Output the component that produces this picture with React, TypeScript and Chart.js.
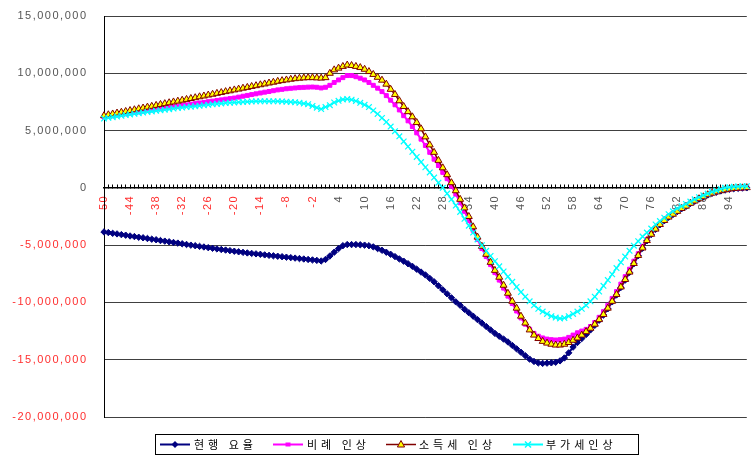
import React, { useEffect, useRef } from 'react';
import { Chart, registerables } from 'chart.js';

Chart.register(...registerables);

// Category axis: age offsets
const ages = [
  -50, -49, -48, -47, -46, -45, -44, -43, -42, -41,
  -40, -39, -38, -37, -36, -35, -34, -33, -32, -31,
  -30, -29, -28, -27, -26, -25, -24, -23, -22, -21,
  -20, -19, -18, -17, -16, -15, -14, -13, -12, -11,
  -10, -9, -8, -7, -6, -5, -4, -3, -2, -1,
  0, 1, 2, 3, 4, 5, 6, 7, 8, 9,
  10, 11, 12, 13, 14, 15, 16, 17, 18, 19,
  20, 21, 22, 23, 24, 25, 26, 27, 28, 29,
  30, 31, 32, 33, 34, 35, 36, 37, 38, 39,
  40, 41, 42, 43, 44, 45, 46, 47, 48, 49,
  50, 51, 52, 53, 54, 55, 56, 57, 58, 59,
  60, 61, 62, 63, 64, 65, 66, 67, 68, 69,
  70, 71, 72, 73, 74, 75, 76, 77, 78, 79,
  80, 81, 82, 83, 84, 85, 86, 87, 88, 89,
  90, 91, 92, 93, 94, 95, 96, 97, 98,
];

// 현행 요율
const currentRate = [
  -3850000, -3900000, -3970000, -4020000, -4080000, -4130000, -4200000, -4250000, -4310000, -4360000,
  -4420000, -4480000, -4530000, -4600000, -4650000, -4710000, -4770000, -4820000, -4880000, -4940000,
  -5000000, -5050000, -5110000, -5160000, -5220000, -5270000, -5330000, -5380000, -5430000, -5480000,
  -5530000, -5580000, -5630000, -5680000, -5720000, -5760000, -5800000, -5850000, -5890000, -5930000,
  -5970000, -6010000, -6050000, -6090000, -6130000, -6170000, -6210000, -6250000, -6290000, -6330000,
  -6380000, -6250000, -5950000, -5620000, -5300000, -5050000, -4950000, -4950000, -4950000, -4970000,
  -5000000, -5050000, -5150000, -5300000, -5450000, -5620000, -5800000, -6000000, -6200000, -6400000,
  -6620000, -6850000, -7100000, -7350000, -7600000, -7900000, -8200000, -8550000, -8900000, -9250000,
  -9600000, -9950000, -10250000, -10600000, -10900000, -11200000, -11500000, -11800000, -12100000, -12400000,
  -12700000, -12950000, -13200000, -13450000, -13750000, -14050000, -14350000, -14650000, -14950000, -15150000,
  -15280000, -15320000, -15300000, -15270000, -15220000, -15100000, -14850000, -14400000, -13900000, -13500000,
  -13150000, -12800000, -12400000, -12000000, -11550000, -11100000, -10550000, -9950000, -9350000, -8700000,
  -8050000, -7380000, -6620000, -5920000, -5270000, -4620000, -4070000, -3620000, -3220000, -2870000,
  -2570000, -2320000, -2070000, -1820000, -1620000, -1370000, -1170000, -970000, -800000, -620000,
  -480000, -370000, -270000, -190000, -120000, -70000, -40000, -20000, 0,
];

// 비례 인상
const proportional = [
  6180000, 6240000, 6290000, 6350000, 6410000, 6460000, 6520000, 6580000, 6630000, 6690000,
  6750000, 6800000, 6860000, 6910000, 6970000, 7020000, 7080000, 7130000, 7190000, 7240000,
  7300000, 7350000, 7410000, 7460000, 7520000, 7570000, 7630000, 7680000, 7740000, 7790000,
  7840000, 7920000, 8000000, 8070000, 8140000, 8210000, 8280000, 8350000, 8410000, 8480000,
  8550000, 8600000, 8650000, 8690000, 8720000, 8750000, 8770000, 8790000, 8800000, 8780000,
  8720000, 8780000, 8950000, 9200000, 9420000, 9620000, 9800000, 9800000, 9700000, 9570000,
  9420000, 9200000, 8950000, 8700000, 8400000, 8050000, 7650000, 7250000, 6800000, 6300000,
  5850000, 5350000, 4800000, 4250000, 3700000, 3100000, 2500000, 1950000, 1350000, 800000,
  150000, -550000, -1300000, -2050000, -2850000, -3700000, -4500000, -5300000, -6000000, -6700000,
  -7400000, -8050000, -8750000, -9450000, -10100000, -10750000, -11350000, -11900000, -12350000, -12700000,
  -12950000, -13100000, -13200000, -13250000, -13280000, -13250000, -13200000, -13050000, -12850000, -12650000,
  -12500000, -12350000, -12100000, -11750000, -11300000, -10800000, -10250000, -9650000, -9050000, -8400000,
  -7750000, -7100000, -6400000, -5750000, -5100000, -4500000, -4000000, -3550000, -3150000, -2800000,
  -2500000, -2250000, -2000000, -1750000, -1550000, -1320000, -1120000, -930000, -750000, -580000,
  -440000, -330000, -230000, -150000, -90000, -40000, -10000, 10000, 30000,
];

// 소득세 인상
const incomeTax = [
  6300000, 6380000, 6450000, 6530000, 6600000, 6670000, 6750000, 6820000, 6900000, 6970000,
  7050000, 7120000, 7200000, 7280000, 7350000, 7430000, 7500000, 7570000, 7650000, 7720000,
  7800000, 7870000, 7950000, 8020000, 8100000, 8170000, 8250000, 8320000, 8400000, 8470000,
  8550000, 8620000, 8700000, 8770000, 8850000, 8920000, 9000000, 9070000, 9150000, 9220000,
  9300000, 9360000, 9420000, 9480000, 9530000, 9570000, 9600000, 9620000, 9620000, 9600000,
  9580000, 9620000, 10000000, 10300000, 10450000, 10600000, 10720000, 10680000, 10600000, 10500000,
  10350000, 10150000, 9900000, 9650000, 9400000, 9050000, 8600000, 8150000, 7600000, 7100000,
  6650000, 6200000, 5700000, 5150000, 4450000, 3750000, 3100000, 2400000, 1750000, 1150000,
  450000, -250000, -1000000, -1750000, -2500000, -3400000, -4300000, -5100000, -5800000, -6500000,
  -7200000, -7800000, -8500000, -9200000, -9900000, -10500000, -11200000, -11800000, -12400000, -12850000,
  -13150000, -13400000, -13550000, -13650000, -13720000, -13720000, -13650000, -13500000, -13300000, -13100000,
  -12850000, -12550000, -12250000, -11900000, -11500000, -11050000, -10500000, -9900000, -9300000, -8650000,
  -8000000, -7350000, -6600000, -5900000, -5250000, -4600000, -4050000, -3600000, -3200000, -2850000,
  -2550000, -2300000, -2050000, -1800000, -1600000, -1350000, -1150000, -950000, -780000, -600000,
  -460000, -350000, -250000, -170000, -100000, -50000, -20000, 0, 20000,
];

// 부가세인상
const vat = [
  6050000, 6110000, 6170000, 6230000, 6290000, 6350000, 6410000, 6470000, 6520000, 6570000,
  6620000, 6670000, 6720000, 6770000, 6820000, 6870000, 6920000, 6970000, 7010000, 7050000,
  7090000, 7130000, 7170000, 7210000, 7250000, 7290000, 7330000, 7370000, 7400000, 7430000,
  7460000, 7480000, 7500000, 7520000, 7540000, 7550000, 7560000, 7560000, 7560000, 7560000,
  7550000, 7540000, 7520000, 7500000, 7470000, 7420000, 7360000, 7300000, 7150000, 7000000,
  6880000, 7050000, 7220000, 7450000, 7600000, 7720000, 7750000, 7700000, 7580000, 7420000,
  7250000, 7050000, 6750000, 6450000, 6100000, 5750000, 5350000, 4950000, 4500000, 4050000,
  3600000, 3150000, 2700000, 2250000, 1800000, 1350000, 900000, 450000, 0, -500000,
  -1000000, -1550000, -2100000, -2700000, -3300000, -3900000, -4500000, -5000000, -5500000, -5950000,
  -6400000, -6850000, -7300000, -7750000, -8200000, -8650000, -9100000, -9500000, -9900000, -10250000,
  -10550000, -10800000, -11000000, -11200000, -11320000, -11400000, -11350000, -11200000, -11000000, -10800000,
  -10550000, -10250000, -9900000, -9500000, -9050000, -8550000, -8050000, -7550000, -7000000, -6500000,
  -6000000, -5500000, -5050000, -4650000, -4250000, -3900000, -3550000, -3200000, -2900000, -2600000,
  -2300000, -2050000, -1800000, -1600000, -1400000, -1200000, -1000000, -820000, -650000, -500000,
  -350000, -220000, -100000, 0, 50000, 100000, 120000, 140000, 150000,
];

const Y_MIN = -20000000;
const Y_MAX = 15000000;
const Y_STEP = 5000000;
const LABEL_EVERY = 6;

const NAVY = '#000080';
const MAGENTA = '#FF00FF';
const MAROON = '#800000';
const YELLOW = '#FFFF00';
const CYAN = '#00FFFF';
const POS_TEXT = '#555555';
const NEG_TEXT = '#FF2E2E';
const TICK_FONT = { family: "'Liberation Sans', Arial, sans-serif", size: 11 };

type MarkerKind = 'diamond' | 'square' | 'triangle' | 'cross';

const legendEntries: { label: string; line: string; marker: MarkerKind; fill: string; stroke: string }[] = [
  { label: '현행 요율', line: NAVY, marker: 'diamond', fill: NAVY, stroke: NAVY },
  { label: '비례 인상', line: MAGENTA, marker: 'square', fill: MAGENTA, stroke: MAGENTA },
  { label: '소득세 인상', line: MAROON, marker: 'triangle', fill: YELLOW, stroke: MAROON },
  { label: '부가세인상', line: CYAN, marker: 'cross', fill: CYAN, stroke: CYAN },
];

function drawMarker(ctx: CanvasRenderingContext2D, kind: MarkerKind, x: number, y: number, fill: string, stroke: string) {
  ctx.save();
  ctx.fillStyle = fill;
  ctx.strokeStyle = stroke;
  ctx.lineWidth = 1;
  ctx.beginPath();
  if (kind === 'diamond') {
    ctx.moveTo(x, y - 3.5);
    ctx.lineTo(x + 3.5, y);
    ctx.lineTo(x, y + 3.5);
    ctx.lineTo(x - 3.5, y);
    ctx.closePath();
    ctx.fill();
  } else if (kind === 'square') {
    ctx.rect(x - 2.5, y - 2, 5, 4);
    ctx.fill();
  } else if (kind === 'triangle') {
    ctx.moveTo(x, y - 4);
    ctx.lineTo(x + 3.6, y + 2.5);
    ctx.lineTo(x - 3.6, y + 2.5);
    ctx.closePath();
    ctx.fill();
    ctx.stroke();
  } else {
    ctx.lineWidth = 1.5;
    ctx.moveTo(x - 3, y - 3);
    ctx.lineTo(x + 3, y + 3);
    ctx.moveTo(x + 3, y - 3);
    ctx.lineTo(x - 3, y + 3);
    ctx.stroke();
  }
  ctx.restore();
}

// Wide Gulim-like letter spacing for axis text
const textSpacingPlugin = {
  id: 'textSpacing',
  beforeDraw(chart: any) {
    chart.ctx.letterSpacing = '1.5px';
  },
  afterDraw(chart: any) {
    chart.ctx.letterSpacing = '0px';
  },
};

// Boxed legend along the bottom edge
const boxLegendPlugin = {
  id: 'boxLegend',
  afterDraw(chart: any) {
    const ctx: CanvasRenderingContext2D = chart.ctx;
    const box = { left: 155.5, top: 434.5, width: 483, height: 20 };
    const lineStarts = [160, 273, 386, 513];
    const textStarts = [194, 307, 419, 546];
    const midY = box.top + box.height / 2;
    ctx.save();
    ctx.strokeStyle = '#000000';
    ctx.lineWidth = 1;
    ctx.strokeRect(box.left, box.top, box.width, box.height);
    (ctx as any).letterSpacing = '4px';
    ctx.font = "11px 'Noto Sans CJK KR', sans-serif";
    ctx.textBaseline = 'middle';
    ctx.textAlign = 'left';
    legendEntries.forEach((entry, i) => {
      const x0 = lineStarts[i];
      ctx.strokeStyle = entry.line;
      ctx.lineWidth = entry.marker === 'triangle' ? 1.5 : 2;
      ctx.beginPath();
      ctx.moveTo(x0, midY);
      ctx.lineTo(x0 + 30, midY);
      ctx.stroke();
      drawMarker(ctx, entry.marker, x0 + 15, midY, entry.fill, entry.stroke);
      ctx.fillStyle = '#000000';
      ctx.fillText(entry.label, textStarts[i], midY + 0.5);
    });
    ctx.restore();
  },
};

export default function App() {
  const canvasRef = useRef<HTMLCanvasElement | null>(null);

  useEffect(() => {
    const canvas = canvasRef.current;
    if (!canvas) return;

    const chart = new Chart(canvas, {
      type: 'line',
      data: {
        labels: ages,
        datasets: [
          {
            label: '현행 요율',
            data: currentRate,
            borderColor: NAVY,
            backgroundColor: NAVY,
            borderWidth: 2,
            pointStyle: 'rectRot',
            pointRadius: 3.2,
            pointBackgroundColor: NAVY,
            pointBorderColor: NAVY,
            pointBorderWidth: 1,
            order: 4,
            clip: false,
          },
          {
            label: '비례 인상',
            data: proportional,
            borderColor: MAGENTA,
            backgroundColor: MAGENTA,
            borderWidth: 2,
            pointStyle: 'rect',
            pointRadius: 2.8,
            pointBackgroundColor: MAGENTA,
            pointBorderColor: MAGENTA,
            pointBorderWidth: 1,
            order: 3,
            clip: false,
          },
          {
            label: '소득세 인상',
            data: incomeTax,
            borderColor: MAROON,
            backgroundColor: YELLOW,
            borderWidth: 1.5,
            pointStyle: 'triangle',
            pointRadius: 4,
            pointBackgroundColor: YELLOW,
            pointBorderColor: MAROON,
            pointBorderWidth: 1,
            order: 2,
            clip: false,
          },
          {
            label: '부가세인상',
            data: vat,
            borderColor: CYAN,
            backgroundColor: CYAN,
            borderWidth: 1.5,
            pointStyle: 'crossRot',
            pointRadius: 4,
            pointBorderColor: CYAN,
            pointBorderWidth: 1.2,
            order: 1,
            clip: false,
          },
        ],
      },
      options: {
        responsive: false,
        animation: false,
        devicePixelRatio: 1,
        events: [],
        layout: { padding: { top: 16, bottom: 38, left: 0, right: 0 } },
        plugins: {
          legend: { display: false },
          tooltip: { enabled: false },
        },
        elements: { line: { tension: 0 } },
        scales: {
          x: {
            type: 'category',
            position: { y: 0 },
            offset: false,
            grid: {
              display: true,
              drawOnChartArea: false,
              drawTicks: true,
              tickLength: -4,
              color: '#000000',
              lineWidth: 1,
            },
            border: { display: true, color: '#000000', width: 1.5 },
            ticks: {
              autoSkip: false,
              minRotation: 90,
              maxRotation: 90,
              padding: 11,
              font: TICK_FONT,
              color: (ctx: any) => (ages[ctx.index] < 0 ? NEG_TEXT : POS_TEXT),
              callback: (_v: any, i: number) => (i % LABEL_EVERY === 0 ? String(ages[i]) : ''),
            },
            afterFit: (scale: any) => {
              scale.height = 0;
              scale.paddingLeft = 0;
              scale.paddingRight = 0;
            },
          },
          y: {
            type: 'linear',
            position: 'left',
            min: Y_MIN,
            max: Y_MAX,
            grid: {
              color: '#404040',
              lineWidth: 1,
              drawTicks: false,
            },
            border: { display: true, color: '#000000', width: 1 },
            ticks: {
              stepSize: Y_STEP,
              padding: 16.5,
              font: TICK_FONT,
              color: (ctx: any) => (ctx.tick && ctx.tick.value < 0 ? NEG_TEXT : POS_TEXT),
              callback: (v: any) => Number(v).toLocaleString('en-US'),
            },
            afterFit: (scale: any) => {
              scale.width = 104;
              scale.paddingTop = 0;
              scale.paddingBottom = 0;
            },
          },
        },
      } as any,
      plugins: [textSpacingPlugin, boxLegendPlugin],
    });

    return () => chart.destroy();
  }, []);

  return (
    <div style={{ position: 'absolute', left: 0, top: 0, width: 752, height: 455, background: '#ffffff' }}>
      <canvas ref={canvasRef} width={752} height={455} style={{ display: 'block', width: 752, height: 455 }} />
    </div>
  );
}
